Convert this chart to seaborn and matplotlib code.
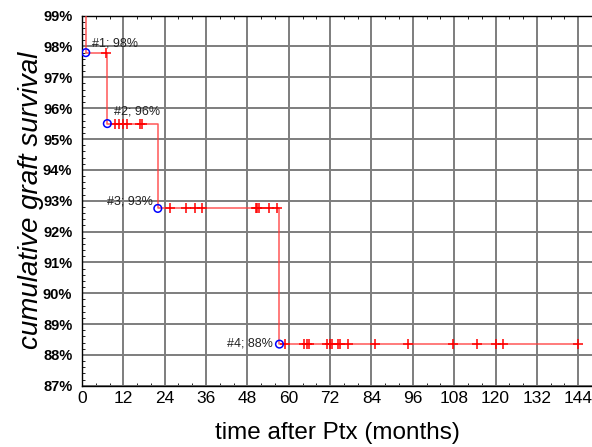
import numpy as np
import pandas as pd
import matplotlib
matplotlib.use('Agg')
import matplotlib.pyplot as plt
from matplotlib.ticker import MultipleLocator, FuncFormatter
import seaborn as sns

# Kaplan-Meier steps (months, % survival)
event_times = [0.0, 1.1, 7.35, 22.0, 57.3, 144.0]
event_surv = [100.0, 97.8, 95.5, 92.75, 88.35, 88.35]
event_labels = ["#1; 98%", "#2; 96%", "#3; 93%", "#4; 88%"]

# censored observations (months)
censored_times = [7.0,
                  9.6, 10.7, 11.9, 13.2, 16.8, 17.3,
                  25.5, 30.1, 32.7, 34.8, 50.4, 50.9, 51.4, 54.4, 56.7,
                  58.9, 64.5, 65.2, 65.8, 71.2, 72.0, 72.5, 74.2, 74.9, 77.2,
                  85.0, 94.7, 107.8, 114.7, 120.1, 122.2, 144.0]

x_ticks = list(range(0, 145, 12))
y_ticks = list(range(87, 100))

sns.set_style("white")
plt.rcParams['font.family'] = ['Liberation Sans', 'DejaVu Sans']
plt.rcParams['text.color'] = 'black'
plt.rcParams['axes.labelcolor'] = 'black'
plt.rcParams['xtick.color'] = 'black'
plt.rcParams['ytick.color'] = 'black'

curve = pd.DataFrame({"t": event_times, "s": event_surv})
steps = curve.iloc[1:5]
idx = np.searchsorted(event_times, censored_times, side='right') - 1
cens = pd.DataFrame({"t": censored_times, "s": np.array(event_surv)[idx]})

fig = plt.figure(figsize=(5.92, 4.47), dpi=100)
ax = fig.add_axes([0.1385, 0.137, 0.8615, 0.828])

sns.lineplot(data=curve, x="t", y="s", ax=ax, drawstyle='steps-post',
             color='#ff3a3a', linewidth=1.1, alpha=0.85, zorder=3)
sns.scatterplot(data=cens, x="t", y="s", ax=ax, marker='+', s=45,
                color='red', linewidth=1.1, zorder=4)
sns.scatterplot(data=steps, x="t", y="s", ax=ax, marker='o', s=30,
                facecolor='none', edgecolor='blue', linewidth=1.1, zorder=5)

label_pos = [(2.9, 98.1, 'left'), (9.3, 95.88, 'left'),
             (20.7, 92.97, 'right'), (55.4, 88.38, 'right')]
for lab, (lx, ly, ha) in zip(event_labels, label_pos):
    ax.text(lx, ly, lab, fontsize=9, color='#222222', ha=ha, va='center')

ax.set_xlim(0, 148)
ax.set_ylim(87, 99)
ax.xaxis.set_major_locator(MultipleLocator(12))
ax.xaxis.set_minor_locator(MultipleLocator(4))
ax.yaxis.set_major_locator(MultipleLocator(1))
ax.yaxis.set_minor_locator(MultipleLocator(0.2))
ax.set_xticks(x_ticks)
ax.set_yticks(y_ticks)
ax.yaxis.set_major_formatter(FuncFormatter(lambda v, p: f"{v:.0f}%"))
for t in ax.get_yticklabels():
    t.set_fontweight('bold')
ax.tick_params(axis='y', labelsize=10.5, length=0, pad=7, labelcolor='black')
ax.tick_params(axis='x', labelsize=12.5, length=0, pad=4, labelcolor='black')
ax.tick_params(which='minor', direction='in', length=2.5, width=0.6,
               left=True, bottom=True, top=True)
ax.tick_params(which='major', direction='in', top=True)

ax.grid(True, which='major', color='#7d7d7d', linewidth=1.4)
ax.set_axisbelow(True)
ax.spines['right'].set_visible(False)
for sp in ['left', 'bottom', 'top']:
    ax.spines[sp].set_color('black')
    ax.spines[sp].set_linewidth(1.0)

ax.set_xlabel("time after Ptx (months)", fontsize=17.5, labelpad=11)
ax.set_ylabel("cumulative graft survival", fontsize=20, style='italic', labelpad=-1)

fig.savefig("out.png", dpi=100)
